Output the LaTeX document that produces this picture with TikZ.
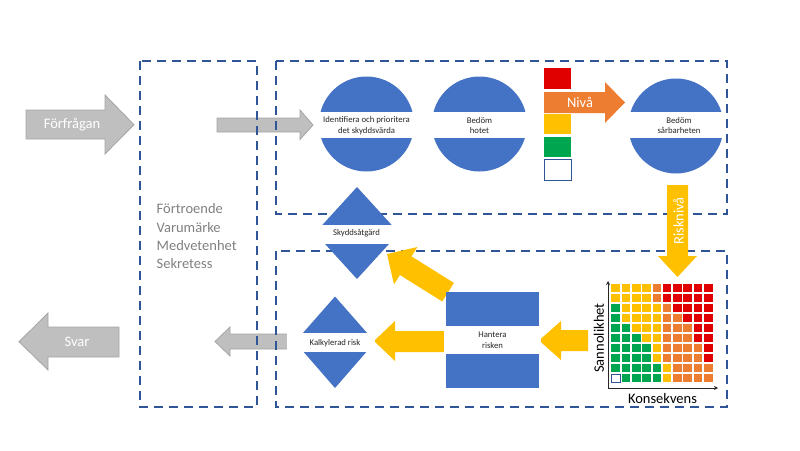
\documentclass[tikz,border=0pt]{standalone}
\usepackage{fontspec}
\setmainfont{Carlito}
\usetikzlibrary{arrows.meta}
\definecolor{blu}{HTML}{4472C4}
\definecolor{dashc}{HTML}{2F5597}
\definecolor{grayf}{HTML}{BFBFBF}
\definecolor{grayd}{HTML}{A5A5A5}
\definecolor{ora}{HTML}{ED7D31}
\definecolor{yel}{HTML}{FFC000}
\definecolor{grn}{HTML}{00A550}
\definecolor{redc}{HTML}{E00000}
\definecolor{txtgray}{HTML}{808080}
\definecolor{txtdark}{HTML}{262626}
\tikzset{
  grayarrow/.style={fill=grayf,draw=grayd,line width=0.8},
  yelarrow/.style={fill=yel},
  dashbox/.style={draw=dashc,line width=2.4,dash pattern=on 9pt off 6pt},
  blueshape/.style={fill=blu},
  band/.style={fill=white,draw=none,inner sep=0pt},
  bigtxt/.style={font=\fontsize{14.5}{17.5}\selectfont,inner sep=0pt},
  smalltxt/.style={font=\fontsize{8.7}{10.5}\selectfont,text=txtdark,align=center,inner sep=0pt},
  cellY/.style={fill=yel},
  cellO/.style={fill=ora},
  cellR/.style={fill=redc},
  cellG/.style={fill=grn},
  cellW/.style={fill=white,draw=dashc,line width=0.8},
}
\begin{document}
\begin{tikzpicture}[x=1pt,y=-1pt]
\useasboundingbox (0,0) rectangle (800,450);

% gray block arrows
\filldraw[grayarrow] (26,110) -- (105,110) -- (105,95) -- (134,124.7) -- (105,154) -- (105,139) -- (26,139) -- cycle;
\node[bigtxt,text=white] (forfragan) at (72,124.5) {Förfrågan};
\filldraw[grayarrow] (19,341.7) -- (48,313) -- (48,327) -- (119,327) -- (119,357) -- (48,357) -- (48,370) -- cycle;
\node[bigtxt,text=white] (svar) at (77,342) {Svar};
\filldraw[grayarrow] (217,118) -- (300,118) -- (300,110) -- (313,125) -- (300,139.5) -- (300,132) -- (217,132) -- cycle;
\filldraw[grayarrow] (215,341.5) -- (230,327) -- (230,334) -- (292,334) -- (292,349) -- (230,349) -- (230,356) -- cycle;

% dashed boxes
\draw[dashbox] (140,61) rectangle (257,407);
\draw[dashbox] (276,61) rectangle (727,214);
\draw[dashbox] (276,251) rectangle (727,407);

% left text
\node[text=txtgray,align=left,anchor=north west,inner sep=0pt,font=\fontsize{14.5}{18.3}\selectfont] (values) at (156.5,203.5)
  {Förtroende\\Varumärke\\Medvetenhet\\Sekretess};

% yellow arrows
\fill[yelarrow] (387,254) -- (417.4,247.0) -- (411.5,256.4) -- (453.9,282.9) -- (442.3,301.5) -- (399.9,275.0) -- (394.0,284.4) -- cycle;
\fill[yelarrow] (539,340.5) -- (561,321) -- (561,330) -- (588,330) -- (588,351) -- (561,351) -- (561,360) -- cycle;
\fill[yelarrow] (374,341) -- (395,321) -- (395,331) -- (447,331) -- (447,352) -- (395,352) -- (395,361) -- cycle;
\fill[yelarrow] (667,185) -- (688,185) -- (688,256) -- (697,256) -- (677.5,277) -- (658,256) -- (667,256) -- cycle;
\node[bigtxt,text=white,rotate=90] (risk) at (678.5,221) {Risknivå};

% level boxes and orange arrow
\fill[redc] (544,68) rectangle (571,89);
\fill[ora] (544,92) -- (605,92) -- (605,82) -- (625,102.5) -- (605,123) -- (605,113) -- (544,113) -- cycle;
\node[bigtxt,text=white] (niva) at (580,102.5) {Nivå};
\fill[yel] (544,114) rectangle (571,134);
\fill[grn] (544,137) rectangle (571,157);
\draw[dashc,line width=1,fill=white] (544,159) rectangle (571,180);

% circles
\fill[blueshape] (366.5,124) circle (47.5);
\fill[blueshape] (479.5,124) circle (47.5);
\fill[blueshape] (676,126) circle (47.5);
\fill[white] (317,112) rectangle (416,137.5);
\fill[white] (430,112) rectangle (529,137.5);
\fill[white] (626,112) rectangle (726,137.5);
\node[smalltxt] (c1) at (366.5,125.5) {Identifiera och prioritera\\det skyddsvärda};
\node[smalltxt] (c2) at (479.5,125.5) {Bedöm\\hotet};
\node[smalltxt] (c3) at (679,125.5) {Bedöm\\sårbarheten};

% diamonds
\fill[blueshape] (357,187) -- (399,233) -- (357,279) -- (315,233) -- cycle;
\fill[white] (315,225) rectangle (407,244);
\node[smalltxt] (skydd) at (356.5,233) {Skyddsåtgärd};
\fill[blueshape] (335,296.5) -- (375,342) -- (335,388) -- (295,342) -- cycle;
\fill[white] (287,333) rectangle (375,352);
\node[smalltxt] (kalk) at (335,343) {Kalkylerad risk};

% rectangle
\fill[blueshape] (446,292) rectangle (539,388);
\fill[white] (444,326) rectangle (541,354);
\node[smalltxt] (hantera) at (492.5,340) {Hantera\\risken};

% heat map
\foreach \c [count=\k from 0] in {
  Y,Y,Y,Y,O,R,R,R,R,R,
  Y,Y,Y,Y,O,R,R,R,R,R,
  G,Y,Y,Y,Y,O,R,R,R,R,
  G,Y,Y,Y,Y,O,O,R,R,R,
  G,G,Y,Y,Y,O,O,O,R,R,
  G,G,G,Y,Y,O,O,O,R,R,
  G,G,G,G,Y,O,O,O,O,R,
  G,G,G,G,Y,O,O,O,O,R,
  G,G,G,G,G,Y,O,O,O,O,
  W,G,G,G,G,Y,O,O,O,O} {
  \pgfmathtruncatemacro\rr{div(\k,10)}
  \pgfmathtruncatemacro\cc{mod(\k,10)}
  \path[cell\c] (611.3+\cc*10.3,284+\rr*10) rectangle ++(8.6,8.2);
}
\coordinate (origin) at (608,388);
\coordinate (ytop) at (608,281);
\coordinate (xend) at (718,388);
\draw[txtdark,line width=0.8,-{Stealth[length=4pt,width=4pt]}] (origin) -- (ytop);
\draw[txtdark,line width=0.8,-{Stealth[length=4pt,width=4pt]}] (origin) -- (xend);
\node[bigtxt,text=black,rotate=90] (sann) at (599,338) {Sannolikhet};
\node[bigtxt,text=black,anchor=base] (kons) at (662.5,403.5) {Konsekvens};
\end{tikzpicture}
\end{document}
